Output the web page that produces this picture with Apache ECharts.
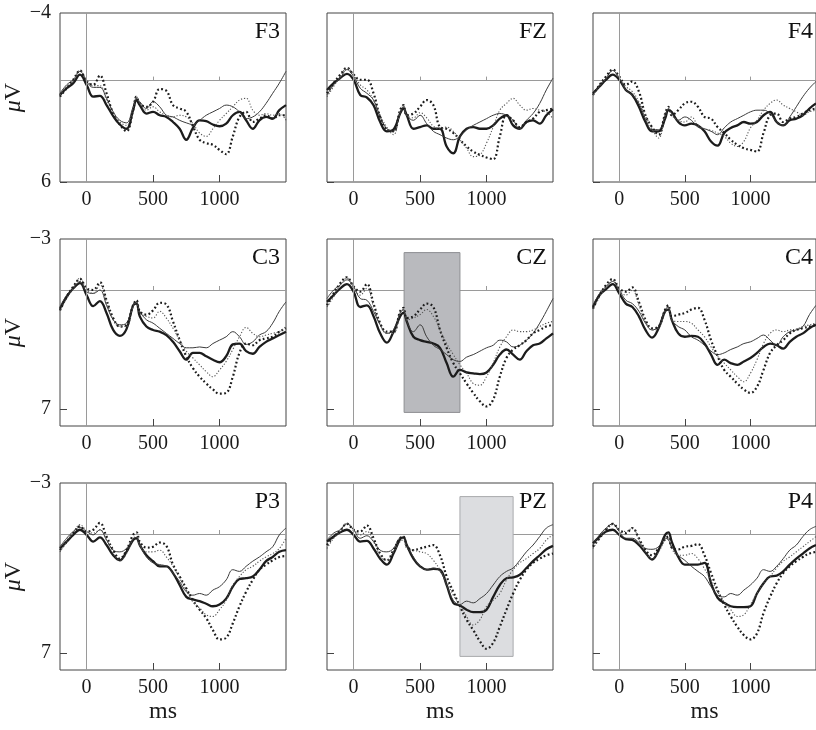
<!DOCTYPE html>
<html>
<head>
<meta charset="UTF-8">
<title>ERP waveforms</title>
<script src="https://cdn.jsdelivr.net/npm/echarts@6/dist/echarts.min.js"></script>
<style>
  html, body { margin: 0; padding: 0; background: #fff; }
  #main { width: 816px; height: 730px; }
</style>
</head>
<body>
<div id="main"></div>
<script>
// time points (ms)
var t = [-200,-150,-100,-50,0,50,100,150,200,250,300,350,375,400,450,500,550,600,650,700,750,800,850,900,950,1000,1050,1100,1150,1200,1250,1300,1350,1400,1450,1500];

// amplitudes (uV), 4 conditions per electrode
var f3Thick    = [0.85,0.45,0.15,-0.35,0.25,0.95,0.9,1.45,2.1,2.6,2.85,1.75,1.15,1.45,1.95,1.85,2.05,2.15,2.45,2.85,3.5,2.8,2.35,2.4,2.6,2.7,2.55,2.05,1.85,2.35,2.85,2.35,2.15,2.25,1.75,1.45];
var f3Thin     = [0.75,0.25,-0.05,-0.55,0.05,0.4,0.4,1.05,1.85,2.35,2.5,1.55,1.05,1.25,1.65,1.25,1.55,2.05,2.15,2.35,2.5,2.6,2.35,2.05,1.85,1.65,1.45,1.55,1.85,2.25,2.15,1.85,1.35,0.75,0.15,-0.55];
var f3DotThick = [0.95,0.45,-0.05,-0.6,0.05,0.25,-0.3,0.75,1.95,2.6,3.0,1.75,0.95,1.35,1.55,1.25,0.5,0.6,1.45,1.65,1.85,2.7,3.5,3.7,3.8,4.1,4.35,3.3,2.15,1.85,2.45,2.25,2.05,2.25,2.05,2.05];
var f3DotThin  = [0.85,0.35,0.05,-0.6,-0.05,0.3,0.3,1.15,1.85,2.45,2.65,1.65,0.95,1.35,1.75,1.55,1.85,2.05,2.15,2.05,2.15,2.55,3.1,3.3,2.85,2.35,1.95,1.55,1.15,1.05,1.75,2.05,1.95,2.05,1.95,2.35];

var fzThick    = [0.55,0.15,-0.15,-0.4,-0.05,0.85,1.0,1.45,2.45,3.0,2.9,1.95,1.65,2.05,2.85,2.75,2.65,2.85,2.85,3.9,4.3,3.3,2.85,2.75,2.85,2.85,2.65,2.25,2.05,2.65,2.85,2.45,2.35,2.55,2.05,1.7];
var fzThin     = [0.85,0.25,-0.15,-0.65,-0.25,0.45,0.75,1.15,2.15,2.85,3.0,1.95,1.55,2.05,2.35,2.05,2.55,3.0,3.2,3.4,3.5,3.3,2.9,2.65,2.45,2.25,2.05,1.95,2.05,2.35,2.85,2.35,1.95,1.35,0.55,-0.15];
var fzDotThick = [0.75,0.15,-0.35,-0.75,-0.35,-0.05,-0.05,0.75,2.15,2.9,3.0,1.75,1.45,2.05,1.95,1.55,1.15,1.45,2.75,2.85,3.1,3.5,3.9,4.2,4.4,4.55,4.65,3.3,2.05,2.35,2.75,2.45,2.25,1.85,1.75,1.65];
var fzDotThin  = [0.95,0.35,-0.25,-0.75,-0.35,0.25,0.55,1.15,2.05,2.75,3.2,1.85,1.5,2.05,2.2,1.9,2.2,2.7,2.85,2.75,3.0,3.5,4.0,4.5,4.4,3.7,2.75,1.75,1.35,1.05,1.45,1.75,1.65,1.75,1.85,2.25];

var f4Thick    = [0.75,0.35,-0.05,-0.35,-0.05,0.55,0.85,1.55,2.45,3.0,3.0,2.25,1.75,1.85,2.45,2.65,2.55,2.65,3.0,3.6,3.85,3.1,2.8,2.65,2.45,2.55,2.45,2.05,1.85,2.45,2.65,2.35,2.25,2.05,1.65,1.35];
var f4Thin     = [0.85,0.25,-0.15,-0.6,-0.15,0.55,0.85,1.35,2.25,2.9,2.9,2.05,1.65,1.95,2.35,2.15,2.35,2.75,2.85,3.0,3.2,2.8,2.45,2.25,2.05,1.85,1.75,1.75,1.95,2.45,2.65,2.15,1.55,0.95,0.45,0.05];
var f4DotThick = [0.85,0.25,-0.25,-0.65,-0.25,0.25,0.05,0.65,2.05,2.75,3.2,1.95,1.55,2.05,1.75,1.35,1.25,1.55,2.15,2.25,2.75,3.1,3.5,3.8,4.0,4.1,4.2,3.1,2.05,1.95,2.45,2.25,2.15,1.95,1.75,1.65];
var f4DotThin  = [0.85,0.35,-0.15,-0.6,-0.15,0.35,0.65,1.25,2.05,2.85,3.4,2.05,1.65,2.05,2.35,2.45,2.15,2.65,2.85,2.95,3.1,3.3,3.7,3.9,3.6,2.8,2.35,1.75,1.35,1.15,1.45,1.65,1.85,2.05,1.85,1.75];

var c3Thick    = [1.1,0.4,-0.1,-0.4,0.3,0.95,0.65,1.35,2.35,2.7,2.3,0.9,0.8,1.55,2.15,2.35,2.45,2.65,3.05,3.6,4.1,3.7,3.7,3.9,4.1,4.25,3.9,3.2,3.15,3.6,3.75,3.35,3.05,2.85,2.65,2.45];
var c3Thin     = [1.0,0.3,-0.1,-0.5,0.1,0.2,0.0,0.9,1.75,2.05,1.95,0.9,0.7,1.25,1.75,1.95,2.25,2.55,2.85,3.15,3.4,3.4,3.35,3.4,3.15,2.95,2.75,2.45,2.75,3.2,3.05,2.65,2.45,1.95,1.25,0.7];
var c3DotThick = [1.2,0.4,-0.2,-0.65,-0.1,0.0,-0.45,0.6,1.65,2.15,2.05,0.9,0.6,1.25,1.45,1.2,0.75,0.85,1.85,2.95,3.9,4.6,5.1,5.5,5.85,6.1,6.05,5.1,3.7,3.15,3.25,2.95,2.85,2.75,2.45,2.25];
var c3DotThin  = [1.2,0.5,-0.1,-0.7,0.0,0.2,-0.3,0.7,1.75,2.15,2.15,1.0,0.7,1.35,1.55,1.65,1.25,1.65,2.25,2.95,3.6,4.0,4.4,4.8,5.1,4.7,4.2,3.5,2.75,2.2,2.55,2.75,2.65,2.55,2.45,2.15];

var czThick    = [0.7,0.3,-0.1,-0.35,0.1,1.0,0.9,1.55,2.55,3.1,2.45,1.55,1.35,1.85,2.75,2.95,3.05,3.15,3.4,4.3,5.1,4.7,4.85,4.9,4.95,4.85,4.4,3.8,3.5,3.8,4.1,3.6,3.25,3.15,2.85,2.55];
var czThin     = [0.5,0.0,-0.3,-0.6,-0.2,0.5,0.6,1.25,2.05,2.55,2.35,1.35,1.15,1.85,2.45,2.05,2.75,3.25,3.5,3.8,4.1,4.2,3.95,3.8,3.6,3.4,3.25,2.95,3.05,3.35,3.25,2.95,2.55,1.95,1.25,0.5];
var czDotThick = [0.9,0.2,-0.4,-0.75,-0.2,0.1,-0.35,0.8,1.95,2.45,2.45,1.25,1.05,1.65,1.55,1.15,0.8,1.0,2.35,3.4,4.3,4.9,5.5,6.05,6.55,6.85,6.45,5.1,4.0,3.5,3.25,2.95,2.55,2.35,2.15,2.05];
var czDotThin  = [1.0,0.4,-0.3,-0.7,-0.1,0.3,-0.1,1.0,2.05,2.55,2.55,1.35,1.15,1.75,1.65,1.45,1.15,1.55,2.35,3.15,3.8,4.4,4.9,5.5,5.6,5.1,4.3,3.35,2.75,2.35,2.45,2.45,2.35,2.15,1.95,1.85];

var c4Thick    = [1.0,0.3,-0.05,-0.35,0.2,0.8,1.0,1.55,2.35,2.8,2.25,1.25,1.15,1.75,2.55,2.75,2.7,2.75,3.15,3.8,4.4,4.1,4.3,4.4,4.2,4.0,3.7,3.35,3.15,3.25,3.45,3.05,2.75,2.55,2.25,2.05];
var c4Thin     = [0.9,0.2,-0.2,-0.5,0.0,0.6,0.8,1.25,1.95,2.35,2.15,1.15,1.0,1.75,2.15,2.35,2.75,2.95,3.25,3.6,3.8,3.7,3.5,3.35,3.15,3.05,2.85,2.65,2.95,3.25,2.75,2.45,2.35,2.15,1.45,0.9];
var c4DotThick = [1.1,0.3,-0.3,-0.65,-0.1,0.1,-0.15,0.7,1.75,2.25,2.15,1.15,0.9,1.55,1.45,1.35,1.15,1.05,1.75,2.95,3.9,4.7,5.1,5.5,5.85,6.05,5.7,4.7,3.7,3.25,2.95,2.55,2.35,2.25,2.15,2.05];
var c4DotThin  = [1.1,0.4,-0.2,-0.6,0.0,0.3,0.0,0.9,1.85,2.35,2.25,1.25,1.05,1.75,1.85,1.85,1.95,2.35,2.75,3.35,3.9,4.3,4.7,5.1,5.4,4.9,4.1,3.15,2.55,2.35,2.45,2.35,2.3,2.15,2.05,1.95];

var p3Thick    = [0.85,0.45,0.05,-0.25,0.05,0.45,0.2,0.65,1.25,1.55,1.05,0.35,0.25,0.65,1.25,1.6,1.9,1.9,2.3,3.0,3.7,3.85,3.95,4.1,4.25,4.15,3.8,3.1,2.65,2.6,2.5,2.1,1.6,1.35,1.05,0.95];
var p3Thin     = [0.75,0.25,-0.15,-0.4,-0.15,0.05,-0.25,0.35,0.95,1.05,0.85,0.3,0.2,0.65,1.35,1.7,1.8,1.9,2.3,2.8,3.4,3.6,3.5,3.6,3.3,3.1,2.7,2.1,2.2,1.9,1.6,1.35,1.05,0.75,0.05,-0.35];
var p3DotThick = [0.95,0.45,-0.05,-0.45,-0.15,-0.25,-0.65,0.15,0.95,1.45,0.95,0.05,-0.1,0.45,0.8,0.75,0.5,0.7,1.8,2.5,3.2,3.9,4.45,4.95,5.65,6.2,6.1,5.25,4.25,3.4,2.7,2.1,1.8,1.55,1.35,1.3];
var p3DotThin  = [1.05,0.45,-0.05,-0.55,-0.2,-0.05,-0.25,0.35,1.15,1.55,1.15,0.25,0.15,0.65,1.05,1.05,0.95,1.35,1.9,2.6,3.3,4.0,4.35,4.75,4.85,4.45,3.9,3.0,2.5,2.1,1.9,1.6,1.35,1.15,0.85,0.25];

var pzThick    = [0.45,0.15,-0.1,-0.25,0.05,0.45,0.4,0.85,1.45,1.8,1.15,0.3,0.2,0.65,1.45,1.9,2.1,2.05,2.1,3.0,4.05,4.2,4.45,4.6,4.6,4.45,3.7,3.0,2.6,2.55,2.4,2.0,1.6,1.25,0.9,0.7];
var pzThin     = [0.35,-0.05,-0.25,-0.6,-0.25,0.25,0.1,0.45,0.95,1.05,0.85,0.25,0.25,0.65,1.35,1.9,2.1,2.0,2.2,3.0,3.9,4.15,3.95,4.05,3.8,3.5,3.0,2.5,2.2,2.0,1.55,1.05,0.65,0.15,-0.35,-0.55];
var pzDotThick = [0.65,0.15,-0.2,-0.6,-0.25,-0.15,-0.5,0.25,1.15,1.55,0.95,0.25,0.15,0.7,0.95,0.85,0.75,0.65,1.25,2.5,3.4,4.25,5.05,5.65,6.3,6.75,6.4,5.45,4.45,3.5,2.7,2.1,1.7,1.45,1.25,1.15];
var pzDotThin  = [0.85,0.25,-0.15,-0.65,-0.25,0.05,-0.15,0.45,1.25,1.55,1.05,0.45,0.35,0.85,0.95,1.05,1.15,1.55,2.1,2.8,3.6,4.15,4.85,5.35,5.05,4.25,3.9,3.5,2.7,2.1,1.7,1.45,1.15,0.85,0.35,0.05];

var p4Thick    = [0.55,0.15,-0.15,-0.25,0.05,0.3,0.35,0.65,1.1,1.5,0.95,0.05,-0.1,0.45,1.35,1.8,1.8,1.8,1.7,2.9,3.75,4.05,4.25,4.3,4.3,4.25,3.5,2.9,2.5,2.45,2.2,1.8,1.45,1.15,0.85,0.65];
var p4Thin     = [0.65,0.05,-0.35,-0.6,-0.15,0.25,0.25,0.5,0.85,0.9,0.75,0.25,0.35,0.75,1.25,1.55,1.9,2.2,2.5,3.1,3.6,3.7,3.5,3.6,3.3,3.0,2.6,2.1,2.2,1.9,1.45,0.95,0.65,0.15,-0.25,-0.45];
var p4DotThick = [0.75,0.25,-0.25,-0.6,-0.25,-0.05,-0.35,0.25,0.95,1.25,0.85,0.3,0.15,0.8,0.9,0.75,0.7,0.6,1.25,2.3,3.3,4.15,4.85,5.45,5.95,6.2,5.85,4.65,3.7,2.9,2.3,1.9,1.6,1.35,1.15,1.05];
var p4DotThin  = [0.85,0.25,-0.25,-0.55,-0.25,-0.15,-0.35,0.35,1.05,1.45,1.05,0.35,0.25,0.85,1.25,1.25,1.15,1.45,2.05,2.7,3.4,4.0,4.45,4.85,4.75,4.15,3.5,2.9,2.5,2.0,1.6,1.35,1.05,0.75,0.45,0.15];

// axis ranges and tick labels per row
var rowMin = [-4, -3, -3];
var rowMax = [6, 8, 8];
var yLabels = [[-4, 6], [-3, 7], [-3, 7]];
var xLabels = [0, 500, 1000];

// analysis windows [ms start, ms end, uV top, uV bottom]
var czWindow = [380, 800, -2.2, 7.2];
var pzWindow = [800, 1200, -2.2, 7.2];

var panels = [
    {name: 'F3', lines: [f3Thick, f3Thin, f3DotThick, f3DotThin]},
    {name: 'FZ', lines: [fzThick, fzThin, fzDotThick, fzDotThin]},
    {name: 'F4', lines: [f4Thick, f4Thin, f4DotThick, f4DotThin]},
    {name: 'C3', lines: [c3Thick, c3Thin, c3DotThick, c3DotThin]},
    {name: 'CZ', lines: [czThick, czThin, czDotThick, czDotThin], win: czWindow, winColor: '#b9babe', winBorder: '#8e8f93'},
    {name: 'C4', lines: [c4Thick, c4Thin, c4DotThick, c4DotThin]},
    {name: 'P3', lines: [p3Thick, p3Thin, p3DotThick, p3DotThin]},
    {name: 'PZ', lines: [pzThick, pzThin, pzDotThick, pzDotThin], win: pzWindow, winColor: '#dcdde0', winBorder: '#a9aaad'},
    {name: 'P4', lines: [p4Thick, p4Thin, p4DotThick, p4DotThin]}
];

var lineStyles = [
    {width: 2.3, color: '#1c1c1c', type: 'solid'},
    {width: 1, color: '#3a3a3a', type: 'solid'},
    {width: 2.2, color: '#1c1c1c', type: [1.8, 2.4]},
    {width: 1.1, color: '#555', type: [1.2, 1.8]}
];

var serif = 'Liberation Serif, DejaVu Serif, serif';
var colLeft = [60, 327, 593];
var rowTop = [13, 239, 483];
var rowH = [169, 187, 187];
var plotW = 226;

var grids = [], xAxes = [], yAxes = [], series = [], titles = [];

panels.forEach(function (p, i) {
    var r = Math.floor(i / 3), c = i % 3;
    grids.push({
        left: colLeft[c], top: rowTop[r], width: plotW, height: rowH[r],
        show: true, borderColor: '#444', borderWidth: 1, backgroundColor: 'transparent'
    });
    // bottom axis with labels
    xAxes.push({
        gridIndex: i, type: 'value', min: -200, max: 1500, position: 'bottom',
        axisLine: {show: false, onZero: false},
        axisTick: {show: true, inside: true, length: 7, customValues: [500, 1000], lineStyle: {color: '#444'}},
        axisLabel: {
            customValues: xLabels, margin: 8, fontFamily: serif, fontSize: 20, color: '#1a1a1a',
            formatter: function (v) { return String(v); }
        },
        splitLine: {show: false},
        name: r === 2 ? 'ms' : '',
        nameLocation: 'middle', nameGap: 30,
        nameTextStyle: {fontFamily: serif, fontSize: 24, color: '#1a1a1a', padding: c === 0 ? [0, 20, 0, 0] : 0}
    });
    // zero line across the panel
    xAxes.push({
        gridIndex: i, type: 'value', min: -200, max: 1500, position: 'top',
        axisLine: {show: true, onZero: true, lineStyle: {color: '#9a9a9a', width: 1}},
        axisTick: {show: true, length: 4, customValues: [500, 1000], lineStyle: {color: '#9a9a9a'}},
        axisLabel: {show: false},
        splitLine: {show: false}
    });
    yAxes.push({
        gridIndex: i, type: 'value', inverse: true, min: rowMin[r], max: rowMax[r],
        axisLine: {show: false, onZero: false},
        axisTick: {show: true, inside: true, length: 7, customValues: [yLabels[r][1]], lineStyle: {color: '#444'}},
        axisLabel: {
            show: c === 0, customValues: yLabels[r], margin: 9,
            fontFamily: serif, fontSize: 20, color: '#1a1a1a',
            formatter: function (v) { return String(v).replace('-', '\u2212'); }
        },
        splitLine: {show: false},
        name: c === 0 ? '{i|\u03bc}V' : '',
        nameLocation: 'middle', nameGap: 22, nameRotate: 90,
        nameTextStyle: {
            fontFamily: serif, fontSize: 24, color: '#1a1a1a',
            rich: {i: {fontFamily: serif, fontSize: 24, fontStyle: 'italic', color: '#1a1a1a'}}
        }
    });

    // helper series: x = 0 line and shaded window
    var helper = {
        type: 'line', xAxisIndex: 2 * i, yAxisIndex: i, data: [], z: 1, silent: true,
        markLine: {
            silent: true, symbol: 'none', label: {show: false}, animation: false,
            lineStyle: {color: '#9a9a9a', width: 1, type: 'solid'},
            data: [{xAxis: 0}]
        }
    };
    if (p.win) {
        helper.markArea = {
            silent: true, animation: false,
            itemStyle: {color: p.winColor, borderColor: p.winBorder, borderWidth: 1},
            data: [[{coord: [p.win[0], p.win[2]]}, {coord: [p.win[1], p.win[3]]}]]
        };
    }
    series.push(helper);

    p.lines.forEach(function (arr, k) {
        series.push({
            type: 'line', xAxisIndex: 2 * i, yAxisIndex: i, z: 3,
            showSymbol: false, smooth: 0.4, silent: true,
            lineStyle: lineStyles[k],
            data: t.map(function (x, j) { return [x, arr[j]]; })
        });
    });

    titles.push({
        text: p.name,
        right: 816 - (colLeft[c] + plotW - 6),
        top: rowTop[r] + 7,
        padding: 0,
        textStyle: {fontFamily: serif, fontSize: 24, fontWeight: 'normal', color: '#111'}
    });
});

var chart = echarts.init(document.getElementById('main'));
chart.setOption({
    animation: false,
    title: titles,
    grid: grids,
    xAxis: xAxes,
    yAxis: yAxes,
    series: series
});
</script>
</body>
</html>
